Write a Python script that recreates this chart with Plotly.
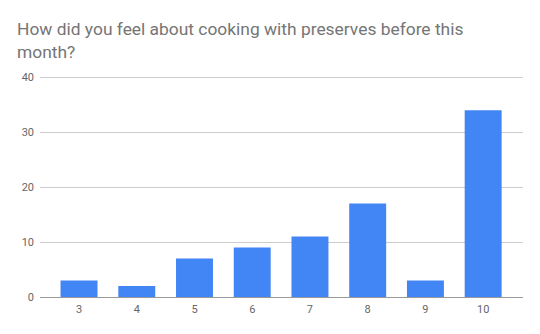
import plotly.graph_objects as go

categories = ["3", "4", "5", "6", "7", "8", "9", "10"]
counts = [3, 2, 7, 9, 11, 17, 3, 34]
y_ticks = [0, 10, 20, 30, 40]

fig = go.Figure(go.Bar(
    x=categories, y=counts,
    marker=dict(color="#4285F4", line=dict(width=0)),
    width=0.64,
))

fig.update_layout(
    width=540, height=334,
    margin=dict(l=40, r=17, t=75, b=37),
    paper_bgcolor="white", plot_bgcolor="white",
    showlegend=False,
    font=dict(family="Roboto", color="#666666"),
    title=dict(
        text="How did you feel about cooking with preserves before this<br>month?",
        xref="container", yref="container",
        x=17/540, xanchor="left",
        y=1 - 35/334, yanchor="top",
        font=dict(family="Roboto", size=17.4, color="#757575"),
    ),
    bargap=0.36,
)
fig.update_xaxes(
    type="category",
    range=[-0.676, 7.69],
    showgrid=False, zeroline=False, showline=False,
    ticks="", ticklabelstandoff=4,
    tickfont=dict(size=11, color="#666666"),
)
fig.update_yaxes(
    range=[0, 40.4], tickvals=y_ticks,
    showgrid=True, gridcolor="#cccccc", gridwidth=1,
    zeroline=True, zerolinecolor="#999999", zerolinewidth=1,
    showline=False, ticks="", ticklabelstandoff=5,
    tickfont=dict(size=11, color="#666666"),
)

fig.write_html("out.html")
